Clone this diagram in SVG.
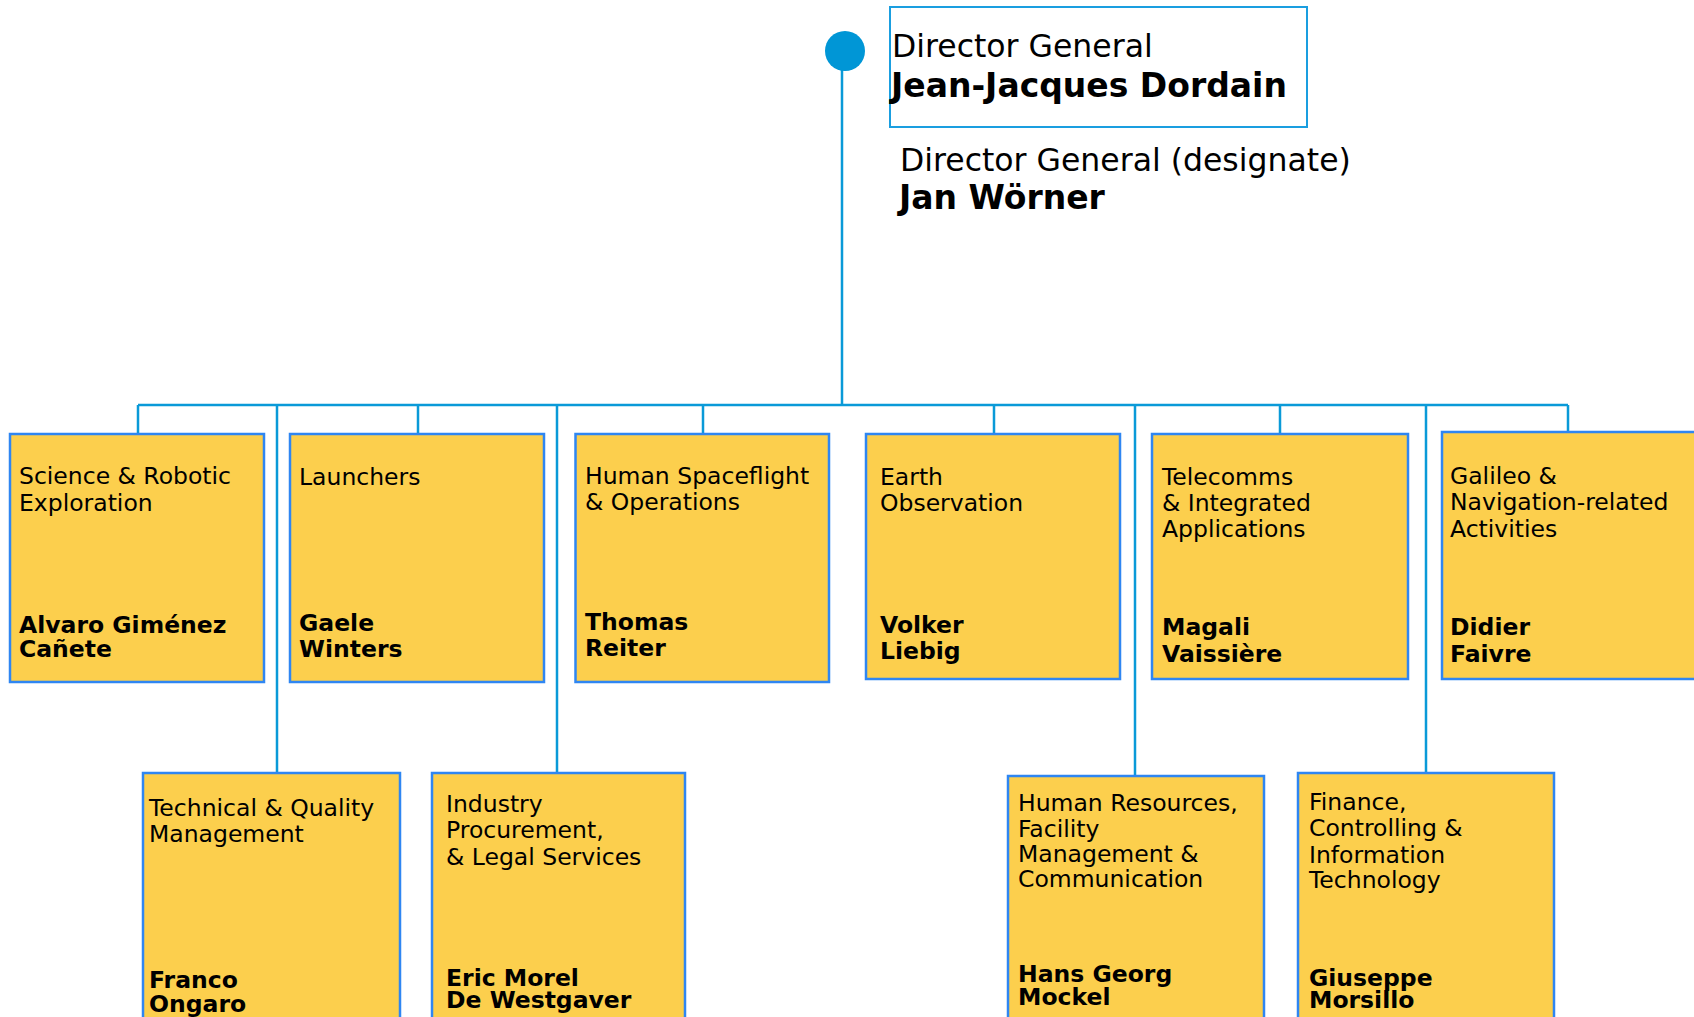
<svg xmlns="http://www.w3.org/2000/svg" width="1694" height="1017" viewBox="0 0 1694 1017">
<style>
.box{fill:#FCCF4D;stroke:#2F86F2;stroke-width:2.5}
.t{font-family:"DejaVu Sans",Verdana,sans-serif;font-size:23.5px;fill:#000}
.n{font-family:"DejaVu Sans",Verdana,sans-serif;font-size:23.5px;font-weight:bold;fill:#000}
.tt{font-family:"DejaVu Sans",Verdana,sans-serif;font-size:31.5px;fill:#000}
.tn{font-family:"DejaVu Sans",Verdana,sans-serif;font-size:33px;font-weight:bold;fill:#000}
.ln{stroke:#0A9AD8;stroke-width:2.5;fill:none}
</style>
<rect width="1694" height="1017" fill="#fff"/>
<g id="connectors">
<path class="ln" d="M842,51V405"/>
<path class="ln" d="M138,405H1568"/>
<path class="ln" d="M138,405V434M418,405V434M703,405V434M994,405V434M1280,405V434M1568,405V432"/>
<path class="ln" d="M277,405V773M557,405V773M1135,405V776M1426,405V773"/>
</g>
<g id="dg">
<circle cx="845" cy="51" r="20" fill="#0096D6"/>
<rect x="890" y="7" width="417" height="120" fill="none" stroke="#1A9EE0" stroke-width="2"/>
<text class="tt" x="892" y="57">Director General</text>
<text class="tn" x="891" y="97">Jean-Jacques Dordain</text>
</g>
<g id="dg-designate">
<text class="tt" x="900" y="171">Director General (designate)</text>
<text class="tn" x="899" y="209">Jan Wörner</text>
</g>
<g id="science">
<rect class="box" x="10" y="434" width="254" height="248"/>
<text class="t" x="19" y="484">Science &amp; Robotic</text>
<text class="t" x="19" y="511">Exploration</text>
<text class="n" x="19" y="633">Alvaro Giménez</text>
<text class="n" x="19" y="657">Cañete</text>
</g>
<g id="launchers">
<rect class="box" x="290" y="434" width="254" height="248"/>
<text class="t" x="299" y="485">Launchers</text>
<text class="n" x="299" y="631">Gaele</text>
<text class="n" x="299" y="657">Winters</text>
</g>
<g id="hsf">
<rect class="box" x="575.5" y="434" width="253.5" height="248"/>
<text class="t" x="585" y="484">Human Spaceflight</text>
<text class="t" x="585" y="510">&amp; Operations</text>
<text class="n" x="585" y="630">Thomas</text>
<text class="n" x="585" y="656">Reiter</text>
</g>
<g id="eo">
<rect class="box" x="866" y="434" width="254" height="245"/>
<text class="t" x="880" y="485">Earth</text>
<text class="t" x="880" y="511">Observation</text>
<text class="n" x="880" y="633">Volker</text>
<text class="n" x="880" y="659">Liebig</text>
</g>
<g id="telecomms">
<rect class="box" x="1152" y="434" width="256" height="245"/>
<text class="t" x="1162" y="485">Telecomms</text>
<text class="t" x="1162" y="511">&amp; Integrated</text>
<text class="t" x="1162" y="537">Applications</text>
<text class="n" x="1162" y="635">Magali</text>
<text class="n" x="1162" y="662">Vaissière</text>
</g>
<g id="galileo">
<rect class="box" x="1442" y="432" width="270" height="247"/>
<text class="t" x="1450" y="484">Galileo &amp;</text>
<text class="t" x="1450" y="510">Navigation-related</text>
<text class="t" x="1450" y="537">Activities</text>
<text class="n" x="1450" y="635">Didier</text>
<text class="n" x="1450" y="662">Faivre</text>
</g>
<g id="technical">
<rect class="box" x="143" y="773" width="257" height="260"/>
<text class="t" x="149" y="816">Technical &amp; Quality</text>
<text class="t" x="149" y="842">Management</text>
<text class="n" x="149" y="988">Franco</text>
<text class="n" x="149" y="1012">Ongaro</text>
</g>
<g id="industry">
<rect class="box" x="432" y="773" width="253" height="260"/>
<text class="t" x="446" y="812">Industry</text>
<text class="t" x="446" y="838">Procurement,</text>
<text class="t" x="446" y="865">&amp; Legal Services</text>
<text class="n" x="446" y="986">Eric Morel</text>
<text class="n" x="446" y="1008">De Westgaver</text>
</g>
<g id="hr">
<rect class="box" x="1008" y="776" width="256" height="257"/>
<text class="t" x="1018" y="811">Human Resources,</text>
<text class="t" x="1018" y="837">Facility</text>
<text class="t" x="1018" y="862">Management &amp;</text>
<text class="t" x="1018" y="887">Communication</text>
<text class="n" x="1018" y="982">Hans Georg</text>
<text class="n" x="1018" y="1005">Mockel</text>
</g>
<g id="finance">
<rect class="box" x="1298" y="773" width="256" height="260"/>
<text class="t" x="1309" y="810">Finance,</text>
<text class="t" x="1309" y="836">Controlling &amp;</text>
<text class="t" x="1309" y="863">Information</text>
<text class="t" x="1309" y="888">Technology</text>
<text class="n" x="1309" y="986">Giuseppe</text>
<text class="n" x="1309" y="1008">Morsillo</text>
</g>
</svg>
